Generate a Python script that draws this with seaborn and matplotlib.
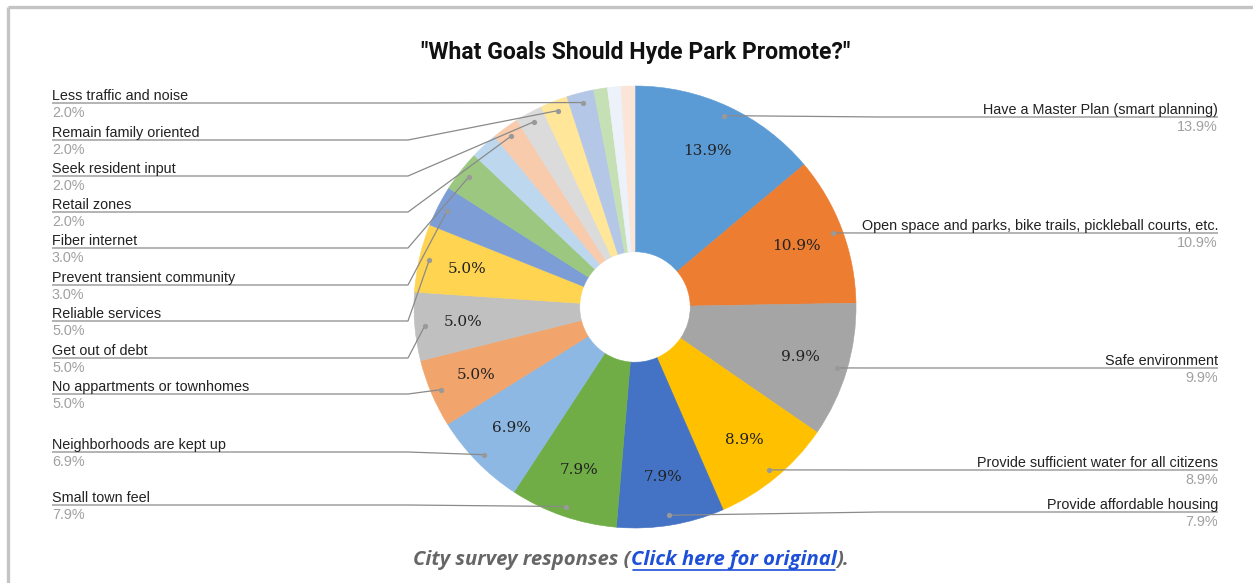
import matplotlib
matplotlib.use("Agg")
import matplotlib.pyplot as plt
import numpy as np
import seaborn as sns

# Survey goals (clockwise from 12 o'clock) and their share of responses in percent
goals = [
    "Have a Master Plan (smart planning)",
    "Open space and parks, bike trails, pickleball courts, etc.",
    "Safe environment",
    "Provide sufficient water for all citizens",
    "Provide affordable housing",
    "Small town feel",
    "Neighborhoods are kept up",
    "No appartments or townhomes",
    "Get out of debt",
    "Reliable services",
    "Prevent transient community",
    "Fiber internet",
    "",  # small answers shown without a callout
    "Retail zones",
    "Seek resident input",
    "Remain family oriented",
    "Less traffic and noise",
    "",
    "",
    "",
]
shares = [13.9, 10.9, 9.9, 8.9, 7.9, 7.9, 6.9, 5.0, 5.0, 5.0,
          3.0, 3.0, 2.0, 2.0, 2.0, 2.0, 2.0, 1.0, 1.0, 1.0]
slice_colors = ["#5B9BD5", "#ED7D31", "#A5A5A5", "#FFC000", "#4472C4", "#70AD47",
                "#8DB8E3", "#F1A46C", "#C0C0C0", "#FFD450", "#7C9DD6", "#9BC780",
                "#BDD7EE", "#F8CBAD", "#DBDBDB", "#FFE699", "#B4C7E7", "#C5E0B4",
                "#ECF1FA", "#FBE5D6"]

title = '"What Goals Should Hyde Park Promote?"'
caption_parts = ["City survey responses (", "Click here for original", ")."]

sns.set_theme(style="white")
plt.rcParams["font.family"] = ["Liberation Sans", "DejaVu Sans"]

W, H = 1253, 583
fig = plt.figure(figsize=(W / 100, H / 100), dpi=100)
fig.patch.set_facecolor("white")

# donut axes: centre (635, 307) px, radius 221 px
cx, cy, R = 635, 307, 221
ax = fig.add_axes([(cx - R) / W, (H - cy - R) / H, 2 * R / W, 2 * R / H])

palette = sns.color_palette(slice_colors)
wedges, _ = ax.pie(shares, colors=palette, startangle=90, counterclock=False,
                   radius=1.0, wedgeprops=dict(width=0.75, linewidth=0.4))
for w in wedges:
    w.set_edgecolor(w.get_facecolor())
ax.set_xlim(-1, 1)
ax.set_ylim(-1, 1)
ax.axis("off")

# overlay in pixel coordinates for frame, callouts and text (drawn above the donut)
ov = fig.add_axes([0, 0, 1, 1])
ov.set_xlim(0, W)
ov.set_ylim(H, 0)
ov.axis("off")
ov.set_zorder(5)

to_px = lambda xy: ov.transData.inverted().transform(ax.transData.transform(xy))

dots = []
for i, w in enumerate(wedges):
    mid = np.deg2rad((w.theta1 + w.theta2) / 2)
    if shares[i] >= 5:
        ax.text(0.78 * np.cos(mid), 0.78 * np.sin(mid), f"{shares[i]:.1f}%",
                ha="center", va="center", fontsize=11, color="#222222",
                family=["DejaVu Serif"])
    dots.append(to_px((0.955 * np.cos(mid), 0.955 * np.sin(mid))))

line_col = "#8a8a8a"
lbl_fs = 10.4
pct_col = "#a0a0a0"

# left-hand callouts: (slice index, y of rule)
left = [(16, 103), (15, 140), (14, 176), (13, 212), (11, 248), (10, 285),
        (9, 321), (8, 358), (7, 394), (6, 452), (5, 505)]
for idx, y in left:
    dx, dy = dots[idx]
    ov.plot([52, 408, dx], [y, y, dy], color=line_col, lw=0.9, solid_capstyle="butt")
    ov.plot(dx, dy, "o", ms=3.8, color="#999999", mec="none")
    ov.text(52, y - 3, goals[idx], ha="left", va="baseline", fontsize=lbl_fs, color="#222222")
    ov.text(52, y + 3, f"{shares[idx]:.1f}%", ha="left", va="top", fontsize=lbl_fs, color=pct_col)

# right-hand callouts
right = [(0, 117), (1, 233), (2, 368), (3, 470), (4, 512)]
for idx, y in right:
    dx, dy = dots[idx]
    ov.plot([dx, 880, 1218], [dy, y, y], color=line_col, lw=0.9, solid_capstyle="butt")
    ov.plot(dx, dy, "o", ms=3.8, color="#999999", mec="none")
    ov.text(1218, y - 3, goals[idx], ha="right", va="baseline", fontsize=lbl_fs, color="#222222")
    ov.text(1218, y + 3, f"{shares[idx]:.1f}%", ha="right", va="top", fontsize=lbl_fs, color=pct_col)

# title
ov.text(636, 53, title, ha="center", va="center", fontsize=16.6, fontweight="bold",
        color="#111111", family=["Roboto", "DejaVu Sans"])

# frame
ov.plot([8, W], [6.5, 6.5], color="#c4c4c4", lw=2.4, solid_capstyle="butt")
ov.plot([8, 8], [6.5, H], color="#c4c4c4", lw=2.4, solid_capstyle="butt")

# caption assembled from three styled pieces
fig.canvas.draw()
renderer = fig.canvas.get_renderer()
styles = [dict(color="#666666"), dict(color="#1d4fd8"), dict(color="#666666")]
pieces = []
x = 0
for part, st in zip(caption_parts, styles):
    t = ov.text(x, 560, part, ha="left", va="center", fontsize=14.6, fontweight="bold",
                fontstyle="italic", family=["Open Sans", "DejaVu Sans"], **st)
    pieces.append(t)
    x += t.get_window_extent(renderer).width
start = 631 - x / 2
x = start
for i, t in enumerate(pieces):
    t.set_x(x)
    bb = t.get_window_extent(renderer)
    if i == 1:
        ov.plot([x + 2, x + bb.width - 1], [569.5, 569.5], color="#1d4fd8", lw=1.2)
    x += bb.width

fig.savefig("out.png", dpi=100, facecolor="white")
